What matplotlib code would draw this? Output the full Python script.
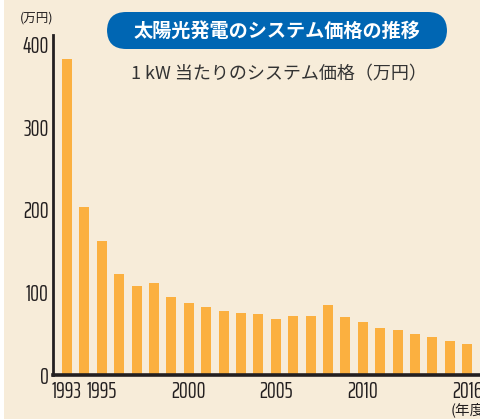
import matplotlib
matplotlib.use("Agg")
import matplotlib.pyplot as plt
from matplotlib.patches import FancyBboxPatch, Rectangle

# ------------------------------------------------------------------ data ---
years = list(range(1993, 2017))
price = [383, 204, 162, 122, 108, 111, 94, 87, 82, 78, 75, 74,
         68, 71, 71, 85, 70, 64, 57, 54, 50, 46, 41, 38]
tick_years = [1993, 1995, 2000, 2005, 2010, 2016]
y_ticks = [0, 100, 200, 300, 400]

title = "太陽光発電のシステム価格の推移"
subtitle = "1 kW 当たりのシステム価格（万円）"

# ----------------------------------------------------------------- style ---
BG = "#F7ECD9"
BAR = "#FBB040"
BOX = "#0066B3"
INK = "#231F20"
NUM_FONT = ["Saira ExtraCondensed", "Roboto Condensed", "DejaVu Sans"]
JP_FONT = ["Noto Sans CJK JP", "DejaVu Sans"]

fig = plt.figure(figsize=(4.8, 4.19), dpi=100, facecolor=BG)
ax = fig.add_axes([53 / 480, 44 / 419, 1 - 53 / 480, 340 / 419])
ax.set_facecolor(BG)

x = [y - years[0] for y in years]
ax.bar(x, price, width=0.575, color=BAR, linewidth=0, zorder=2)

ax.set_xlim(-0.8, 23.74)
ax.set_ylim(0, 412)

for s in ("top", "right"):
    ax.spines[s].set_visible(False)
ax.spines["left"].set_linewidth(2.0)
ax.spines["left"].set_color(INK)
ax.spines["bottom"].set_linewidth(2.6)
ax.spines["bottom"].set_color(INK)
ax.spines["bottom"].set_zorder(3)

ax.set_yticks(y_ticks)
ax.set_yticklabels([str(v) for v in y_ticks], family=NUM_FONT, fontsize=16, color=INK)
ax.set_xticks([t - years[0] for t in tick_years])
ax.set_xticklabels([str(t) for t in tick_years], family=NUM_FONT, fontsize=16, color=INK)
ax.tick_params(axis="both", length=0)
ax.tick_params(axis="y", pad=3)
ax.tick_params(axis="x", pad=4)

# unit labels
fig.text(37 / 480, 1 - 18 / 419, "(万円)", family=JP_FONT, fontsize=9,
         color=INK, ha="center", va="center")
fig.text(451 / 480, 1 - 410 / 419, "(年度)", family=JP_FONT, fontsize=10.5,
         color=INK, ha="left", va="center")

# title box
box = FancyBboxPatch((107 / 480, 1 - 49 / 419), 340 / 480, 37 / 419,
                     boxstyle="round,pad=0,rounding_size=0.04",
                     transform=fig.transFigure, facecolor=BOX, edgecolor="none",
                     mutation_aspect=480 / 419)
fig.patches.append(box)
fig.text(277 / 480, 1 - 31 / 419, title, family=JP_FONT, fontsize=13.8,
         fontweight="bold", color="white", ha="center", va="center")
fig.text(279 / 480, 1 - 74 / 419, subtitle, family=JP_FONT, fontsize=13,
         color="#333333", ha="center", va="center")

# thin white strip on the left edge
fig.patches.append(Rectangle((0, 0), 4 / 480, 1, transform=fig.transFigure,
                             facecolor="white", edgecolor="none"))

fig.savefig("out.png", dpi=100, facecolor=BG)
